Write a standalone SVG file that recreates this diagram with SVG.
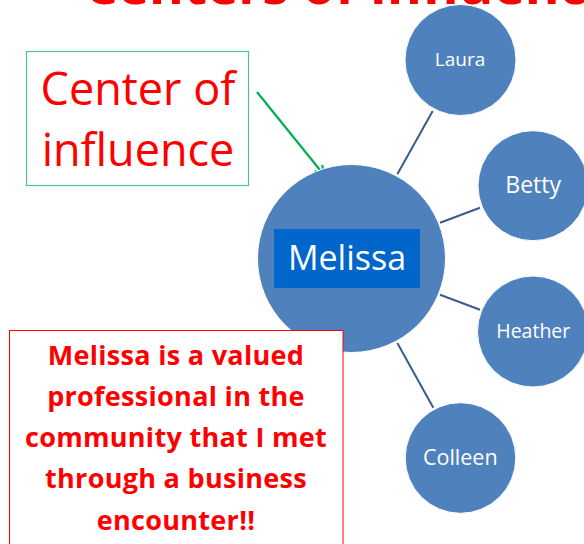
<svg xmlns="http://www.w3.org/2000/svg" width="584" height="544" viewBox="0 0 584 544">
  <defs>
    <style>
      .title { font-family: "Open Sans", "Liberation Sans", sans-serif; font-weight: bold; font-size: 53px; fill: #FF0000; }
      .callout { font-family: "Open Sans", "Liberation Sans", sans-serif; font-size: 45px; fill: #FF0000; }
      .note { font-family: "Open Sans", "Liberation Sans", sans-serif; font-weight: bold; font-size: 27px; letter-spacing: 0.3px; fill: #FF0000; text-anchor: middle; }
      .node circle { fill: #4F81BD; stroke: #FFFFFF; stroke-width: 1; }
      .node text { font-family: "Open Sans", "Liberation Sans", sans-serif; fill: #FFFFFF; text-anchor: middle; }
      .link { stroke: #385D8A; stroke-width: 2; fill: none; }
    </style>
    <marker id="openArrow" markerWidth="12" markerHeight="12" viewBox="0 0 12 12" refX="10" refY="6" orient="auto" markerUnits="userSpaceOnUse">
      <path d="M1,1 L10,6 L1,11" fill="none" stroke="#00B050" stroke-width="2.2"/>
    </marker>
  </defs>

  <rect width="584" height="544" fill="#FFFFFF"/>

  <!-- heading, mostly above the top edge -->
  <text class="title" x="84" y="4">Centers of Influence</text>

  <!-- spokes from the hub to each contact, plus the callout pointer -->
  <g id="connectors">
    <line class="link" x1="397.3" y1="174.3" x2="432.7" y2="111"/>
    <line class="link" x1="440" y1="222.7" x2="480" y2="207.7"/>
    <line class="link" x1="440" y1="294.7" x2="480" y2="309.7"/>
    <line class="link" x1="397.3" y1="343" x2="433.3" y2="407.7"/>
    <line x1="257" y1="92" x2="324" y2="175" stroke="#00B050" stroke-width="2.2" marker-end="url(#openArrow)"/>
  </g>

  <g id="melissa" class="node">
    <circle cx="351.5" cy="258.5" r="94"/>
    <rect x="274" y="229" width="146" height="59" fill="#0066CC"/>
    <text x="347" y="270" font-size="34">Melissa</text>
  </g>

  <g id="laura" class="node">
    <circle cx="460.5" cy="60" r="55.5"/>
    <text x="460" y="66" font-size="19">Laura</text>
  </g>

  <g id="betty" class="node">
    <circle cx="533" cy="185.7" r="55"/>
    <text x="533.2" y="192.7" font-size="23">Betty</text>
  </g>

  <g id="heather" class="node">
    <circle cx="533" cy="331.5" r="55.5"/>
    <text x="533.3" y="338" font-size="19.5">Heather</text>
  </g>

  <g id="colleen" class="node">
    <circle cx="460.5" cy="458" r="55.3"/>
    <text x="460.3" y="465.3" font-size="21.5">Colleen</text>
  </g>

  <g id="callout">
    <rect x="26.5" y="51.5" width="222" height="134" fill="#FFFFFF" stroke="#4CC38A" stroke-width="1.2"/>
    <text class="callout" x="138" y="105" text-anchor="middle">Center of</text>
    <text class="callout" x="138" y="166" text-anchor="middle">influence</text>
  </g>

  <g id="note">
    <rect x="9.5" y="330.5" width="333.5" height="230" fill="#FFFFFF" stroke="#FF0000" stroke-width="1"/>
    <text class="note" x="176" y="365">Melissa is a valued</text>
    <text class="note" x="176" y="406">professional in the</text>
    <text class="note" x="176" y="447">community that I met</text>
    <text class="note" x="176" y="488">through a business</text>
    <text class="note" x="176" y="530">encounter!!</text>
  </g>
</svg>
